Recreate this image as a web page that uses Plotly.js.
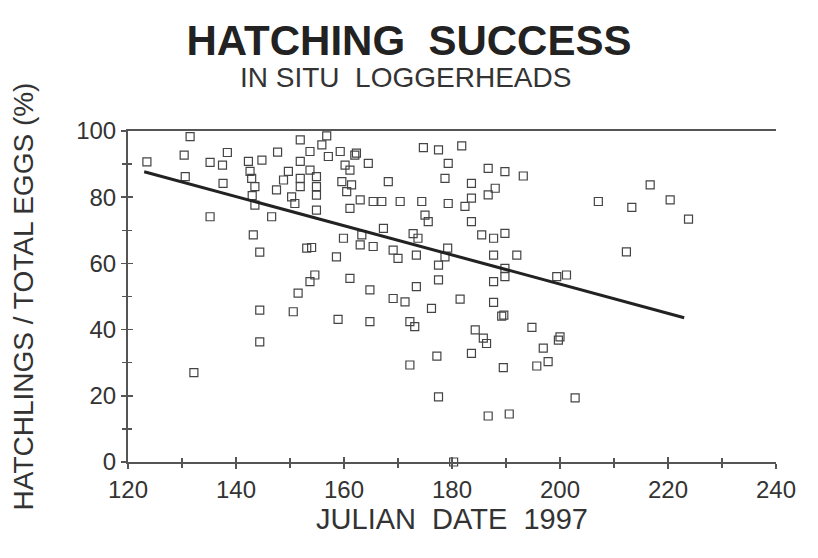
<!DOCTYPE html>
<html>
<head>
<meta charset="utf-8">
<script src="https://cdn.plot.ly/plotly-3.0.1.min.js"></script>
<style>html,body{margin:0;padding:0;background:#fff;}#chart{width:818px;height:558px;}</style>
</head>
<body>
<div id="chart"></div>
<script>
// Julian date (1997) of each in-situ loggerhead nest
const julianDate = [
  123.5,131.5,130.4,130.6,138.4,135.2,137.5,137.6,135.2,142.3,
  144.8,147.7,142.6,142.9,143.5,143.5,146.6,143.2,144.4,147.5,
  148.8,149.7,151.9,153.7,156.8,155.9,157.1,159.3,151.9,151.9,
  151.9,153.7,154.9,154.9,154.9,150.3,150.9,154.9,160.2,161.1,
  159.6,161.4,160.5,162.3,164.5,163.0,161.1,165.4,167.0,170.4,
  168.2,174.7,177.5,179.3,178.7,179.3,174.4,175.0,175.6,167.3,
  163.3,159.9,163.0,165.4,169.1,170.0,172.8,173.7,173.4,177.5,
  177.5,153.1,154.0,158.6,154.6,153.7,161.1,151.5,164.8,169.1,
  171.3,173.4,176.2,181.8,186.7,189.8,193.2,183.6,188.0,186.7,
  183.6,182.4,183.6,185.5,187.7,189.8,187.7,192.0,189.8,189.8,
  187.7,199.4,201.2,207.1,181.5,216.7,213.3,220.4,223.8,212.3,
  187.7,189.2,189.6,194.8,184.3,185.8,186.4,183.6,189.5,196.9,
  195.7,197.8,200.0,199.7,202.8,186.7,190.6,177.2,177.5,180.3,
  150.6,158.9,164.8,172.2,173.1,172.2,144.4,144.4,132.2,178.7,
  179.2,162.0,143.0
];
// Hatchlings / total eggs (%)
const hatchPct = [
  90.7,98.3,92.7,86.2,93.5,90.5,89.7,84.2,74.1,90.8,
  91.2,93.6,87.8,85.7,83.2,77.6,74.1,68.6,63.4,82.2,
  85.2,87.8,97.3,93.8,98.5,95.8,92.3,93.8,90.8,85.7,
  83.2,88.2,86.2,83.2,80.6,80.1,78.1,76.1,89.7,88.2,
  84.7,83.7,81.7,93.3,90.2,79.2,76.6,78.7,78.7,78.7,
  84.7,95.0,94.3,90.2,85.7,78.1,78.7,74.6,72.6,70.6,
  68.6,67.6,65.6,65.1,64.0,61.5,69.0,67.6,62.5,59.5,
  55.0,64.6,64.8,62.0,56.5,54.5,55.5,51.0,52.0,49.4,
  48.4,53.0,46.4,95.5,88.7,87.7,86.4,84.2,82.7,80.7,
  79.7,77.2,72.6,68.6,67.6,69.1,62.5,62.5,58.5,56.0,
  54.5,56.0,56.5,78.7,49.2,83.7,76.9,79.2,73.4,63.5,
  48.2,44.1,44.4,40.7,39.9,37.4,35.8,32.8,28.5,34.4,
  29.0,30.3,37.8,36.8,19.4,13.9,14.5,32.0,19.7,0.0,
  45.4,43.1,42.4,42.4,40.9,29.3,45.9,36.3,27.0,62.0,
  64.6,92.7,80.5
];
// Fitted regression line end points
const fitX = [123, 223];
const fitY = [87.7, 43.6];

const xTicks = [120,140,160,180,200,220,240];
const yTicks = [0,20,40,60,80,100];

const FONT = '"Liberation Sans", Arial, sans-serif';
const INK = '#333';

const traces = [
  {
    type: 'scatter', mode: 'markers', x: julianDate, y: hatchPct,
    marker: {symbol: 'square-open', size: 8, color: '#444', line: {width: 1.2, color: '#444'}},
    cliponaxis: false, hoverinfo: 'x+y'
  },
  {
    type: 'scatter', mode: 'lines', x: fitX, y: fitY,
    line: {color: '#222', width: 3}, hoverinfo: 'skip'
  },
  {type: 'scatter', mode: 'markers', x: [], y: [], xaxis: 'x2', yaxis: 'y2', showlegend: false}
];

const axisCommon = {
  showgrid: false, zeroline: false, showline: true,
  linecolor: '#555', linewidth: 2, tickcolor: '#555', tickwidth: 1.5,
  tickfont: {family: FONT, size: 24, color: INK}
};

const layout = {
  width: 818, height: 558,
  paper_bgcolor: '#fff', plot_bgcolor: '#fff',
  showlegend: false,
  margin: {l: 128, r: 42, t: 131, b: 96},
  title: {
    text: '<b>HATCHING  SUCCESS</b>',
    font: {family: FONT, size: 42, color: '#222'},
    x: 0.5, xref: 'container', xanchor: 'center',
    y: 1 - 40/558, yref: 'container', yanchor: 'middle'
  },
  annotations: [{
    text: 'IN SITU  LOGGERHEADS', showarrow: false,
    xref: 'paper', yref: 'paper', x: 0.429, y: 1 + (131-78)/331,
    xanchor: 'center', yanchor: 'middle',
    font: {family: FONT, size: 28, color: INK}
  }],
  xaxis: Object.assign({}, axisCommon, {
    range: [120, 240], tickmode: 'array', tickvals: xTicks, ticktext: xTicks.map(String),
    ticks: 'outside', ticklen: 5, mirror: true,
    minor: {dtick: 10, tick0: 120, ticks: 'outside', ticklen: 4, tickcolor: '#555', showgrid: false},
    title: {text: 'JULIAN  DATE  1997', font: {family: FONT, size: 29, color: INK}, standoff: 3},
    automargin: false
  }),
  yaxis: Object.assign({}, axisCommon, {
    range: [0, 100], tickmode: 'array', tickvals: yTicks, ticktext: yTicks.map(String),
    ticks: 'outside', ticklen: 5,
    minor: {dtick: 10, tick0: 0, ticks: 'outside', ticklen: 4, tickcolor: '#555', showgrid: false},
    title: {text: 'HATCHLINGS / TOTAL EGGS (%)', font: {family: FONT, size: 28, color: INK}, standoff: 34},
    automargin: false
  }),
  xaxis2: {
    overlaying: 'x', anchor: 'y', range: [120, 240], showgrid: false, zeroline: false,
    showline: false, showticklabels: false, ticks: 'inside', ticklen: 5, tickwidth: 1.5, tickcolor: '#555',
    tickmode: 'array', tickvals: xTicks,
    minor: {dtick: 10, tick0: 120, ticks: 'inside', ticklen: 4, tickcolor: '#555', showgrid: false}
  },
  yaxis2: {
    overlaying: 'y', anchor: 'x', side: 'left', range: [0, 100], showgrid: false, zeroline: false,
    showline: false, showticklabels: false, ticks: 'inside', ticklen: 5, tickwidth: 1.5, tickcolor: '#555',
    tickmode: 'array', tickvals: yTicks,
    minor: {dtick: 10, tick0: 0, ticks: 'inside', ticklen: 4, tickcolor: '#555', showgrid: false}
  }
};

Plotly.newPlot('chart', traces, layout, {staticPlot: true, displayModeBar: false});
</script>
</body>
</html>
